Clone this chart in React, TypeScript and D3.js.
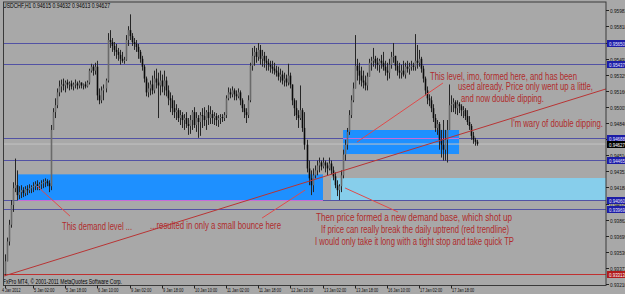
import React from "react";
import * as d3 from "d3";

// ---- data ----
const SYMBOL = "USDCHF,H1";
const HEADER_OHLC = ["0.94615", "0.94632", "0.94613", "0.94627"];
const FOOTER = "FxPro MT4, \u00a9 2001-2011 MetaQuotes Software Corp.";

// hourly candles, prices in 1/10000 CHF (open of each bar = previous close)
const firstOpen = 9331;
const highs = [
  9351, 9368, 9386, 9406, 9424, 9448, 9436, 9420, 9421, 9419,
  9420, 9421, 9422, 9421, 9424, 9425, 9426, 9424, 9426, 9427,
  9428, 9427, 9426, 9482, 9499, 9509, 9519, 9527, 9528, 9529,
  9527, 9528, 9526, 9527, 9525, 9528, 9526, 9527, 9525, 9524,
  9526, 9527, 9539, 9544, 9543, 9545, 9547, 9519, 9521, 9523,
  9529, 9575, 9578, 9570, 9566, 9564, 9560, 9558, 9556, 9551,
  9573, 9582, 9594, 9575, 9570, 9568, 9564, 9558, 9552, 9543,
  9531, 9525, 9527, 9532, 9537, 9539, 9535, 9537, 9533, 9537,
  9531, 9522, 9515, 9512, 9507, 9503, 9499, 9497, 9495, 9493,
  9495, 9489, 9492, 9497, 9500, 9495, 9492, 9495, 9499, 9500,
  9497, 9502, 9501, 9497, 9495, 9494, 9492, 9493, 9493, 9495,
  9512, 9520, 9519, 9521, 9519, 9517, 9519, 9517, 9509, 9503,
  9499, 9512, 9545, 9560, 9562, 9560, 9565, 9563, 9558, 9556,
  9552, 9549, 9547, 9547, 9545, 9542, 9541, 9539, 9537, 9535,
  9533, 9544, 9535, 9522, 9509, 9507, 9497, 9522, 9499, 9495,
  9467, 9446, 9436, 9438, 9441, 9446, 9449, 9446, 9449, 9446,
  9444, 9449, 9446, 9440, 9434, 9426, 9422, 9436, 9457, 9467,
  9479, 9497, 9512, 9525, 9573, 9549, 9545, 9541, 9537, 9532,
  9535, 9549, 9551, 9560, 9552, 9550, 9549, 9553, 9556, 9547,
  9545, 9549, 9556, 9565, 9552, 9547, 9545, 9543, 9547, 9545,
  9547, 9545, 9547, 9545, 9574, 9563, 9558, 9551, 9542, 9531,
  9521, 9513, 9511, 9503, 9493, 9487, 9485, 9477, 9487, 9477,
  9487, 9523, 9512, 9509, 9507, 9507, 9505, 9503, 9501, 9499,
  9497, 9491, 9483, 9475, 9469, 9467,
];
const lows = [
  9329, 9344, 9360, 9378, 9394, 9414, 9406, 9407, 9408, 9409,
  9410, 9411, 9413, 9413, 9414, 9416, 9416, 9416, 9417, 9418,
  9419, 9420, 9414, 9416, 9477, 9489, 9499, 9511, 9515, 9517,
  9515, 9519, 9517, 9518, 9517, 9519, 9518, 9519, 9519, 9518,
  9519, 9520, 9523, 9535, 9532, 9533, 9507, 9503, 9504, 9507,
  9515, 9525, 9560, 9556, 9552, 9549, 9547, 9543, 9545, 9544,
  9547, 9562, 9568, 9562, 9558, 9556, 9549, 9545, 9537, 9525,
  9511, 9510, 9512, 9513, 9514, 9519, 9489, 9512, 9515, 9512,
  9511, 9502, 9495, 9492, 9489, 9487, 9485, 9482, 9479, 9477,
  9479, 9472, 9473, 9477, 9479, 9475, 9469, 9471, 9479, 9481,
  9477, 9482, 9483, 9483, 9482, 9481, 9480, 9483, 9485, 9486,
  9489, 9507, 9509, 9510, 9507, 9507, 9509, 9502, 9495, 9489,
  9484, 9489, 9505, 9537, 9542, 9545, 9547, 9543, 9541, 9540,
  9537, 9537, 9535, 9534, 9533, 9531, 9527, 9525, 9523, 9521,
  9521, 9522, 9519, 9502, 9491, 9487, 9479, 9487, 9475, 9457,
  9434, 9421, 9411, 9414, 9428, 9431, 9434, 9436, 9438, 9434,
  9431, 9436, 9432, 9426, 9418, 9410, 9406, 9414, 9428, 9446,
  9457, 9472, 9489, 9505, 9525, 9527, 9523, 9521, 9519, 9517,
  9517, 9533, 9537, 9541, 9539, 9537, 9535, 9539, 9537, 9532,
  9527, 9529, 9539, 9545, 9537, 9532, 9529, 9529, 9531, 9529,
  9535, 9533, 9537, 9537, 9537, 9539, 9541, 9535, 9525, 9512,
  9503, 9501, 9495, 9485, 9475, 9472, 9457, 9449, 9446, 9446,
  9444, 9477, 9495, 9495, 9493, 9492, 9494, 9491, 9489, 9487,
  9482, 9477, 9467, 9463, 9461, 9461,
];
const closes = [
  9344, 9364, 9381, 9401, 9418, 9421, 9411, 9414, 9416, 9413,
  9417, 9416, 9418, 9419, 9420, 9422, 9420, 9422, 9423, 9424,
  9425, 9423, 9420, 9477, 9495, 9502, 9515, 9521, 9523, 9522,
  9525, 9523, 9524, 9521, 9523, 9524, 9522, 9525, 9522, 9523,
  9521, 9525, 9537, 9541, 9537, 9541, 9512, 9507, 9517, 9519,
  9527, 9568, 9566, 9562, 9558, 9556, 9553, 9549, 9547, 9548,
  9568, 9578, 9572, 9566, 9564, 9561, 9556, 9549, 9541, 9529,
  9515, 9519, 9523, 9517, 9529, 9525, 9522, 9527, 9521, 9527,
  9517, 9509, 9507, 9499, 9495, 9497, 9489, 9492, 9487, 9489,
  9483, 9481, 9487, 9495, 9482, 9489, 9485, 9492, 9491, 9487,
  9495, 9489, 9493, 9489, 9491, 9487, 9489, 9490, 9489, 9492,
  9509, 9515, 9513, 9517, 9513, 9511, 9515, 9507, 9499, 9495,
  9492, 9507, 9542, 9552, 9556, 9551, 9558, 9549, 9552, 9547,
  9545, 9543, 9541, 9539, 9537, 9535, 9531, 9533, 9527, 9529,
  9525, 9532, 9523, 9507, 9499, 9492, 9489, 9497, 9479, 9462,
  9438, 9428, 9421, 9431, 9436, 9441, 9444, 9440, 9444, 9441,
  9438, 9443, 9436, 9430, 9421, 9416, 9420, 9431, 9452, 9462,
  9475, 9492, 9507, 9519, 9542, 9537, 9532, 9527, 9525, 9522,
  9531, 9545, 9547, 9549, 9545, 9543, 9547, 9545, 9541, 9537,
  9535, 9543, 9551, 9552, 9542, 9537, 9535, 9537, 9533, 9541,
  9539, 9541, 9542, 9541, 9547, 9545, 9549, 9539, 9529, 9517,
  9509, 9507, 9499, 9489, 9479, 9483, 9467, 9462, 9457, 9467,
  9477, 9502, 9503, 9505, 9499, 9503, 9501, 9497, 9497, 9491,
  9485, 9481, 9471, 9467, 9465, 9463,
];

const timeLabels = [
  "4 Jan 2012", "5 Jan 02:00", "5 Jan 18:00", "6 Jan 10:00", "9 Jan 02:00",
  "9 Jan 18:00", "10 Jan 10:00", "11 Jan 02:00", "11 Jan 18:00", "12 Jan 10:00",
  "13 Jan 02:00", "13 Jan 18:00", "16 Jan 10:00", "17 Jan 02:00", "17 Jan 18:00",
];
const timeLabelBars = [0, 14, 30, 46, 62, 78, 94, 110, 126, 142, 158, 174, 190, 206, 222];

const priceTicks = [
  "0.93210", "0.93373", "0.93536", "0.93699", "0.93862", "0.94025",
  "0.94188", "0.94351", "0.94514", "0.94677", "0.94840", "0.95003",
  "0.95166", "0.95329", "0.95492", "0.95655", "0.95818", "0.95981",
];

const blueLevels = [0.9565, 0.95437, 0.94688, 0.94465, 0.9406, 0.93969];
const redLevel = 0.93313;
const bidPrice = 0.94627;

// zones: start bar, end bar, top price, bottom price
const zoneStart = [6.5, 168.2, 162.2];
const zoneEnd = [158.2, 225.9, 320];
const zoneTop = [0.9432, 0.94769, 0.94283];
const zoneBottom = [0.9406, 0.94526, 0.9406];
const zoneKind = ["demand", "demand", "new"];

// daily uptrend line anchors (bar, price)
const trendBars = [0, 235];
const trendPrices = [0.93294, 0.9478];

// annotation pointer lines: [bar1, price1, bar2, price2]
const pointers = [
  [15.9, 0.94202, 32.3, 0.93898],
  [127.9, 0.93878, 149.3, 0.94161],
  [169.2, 0.94182, 195.5, 0.93939],
  [175.1, 0.94647, 217.9, 0.95245],
];

const notes = [
  "This level, imo, formed here, and has been",
  "used already. Price only went up a little,",
  "and now double dipping.",
  "I'm wary of double dipping.",
  "This demand level ...",
  "...resulted in only a small bounce here",
  "Then price formed a new demand base, which shot up",
  "If price can really break the daily uptrend (red trendline)",
  "I would only take it long with a tight stop and take quick TP",
];

// ---- layout ----
const W = 625;
const H = 294;
const PL = 3.5;
const PR = 606;
const PT = 2;
const PB = 285.5;
const noteLayout: [number, number, number][] = [
  [430, 76, 147],
  [458, 86.5, 135],
  [461, 98, 83],
  [511, 123.5, 92],
  [62, 226, 70],
  [150, 225.5, 131],
  [316, 217, 196],
  [321, 229, 188],
  [315, 241, 199],
];

const BG = "#a8a8a8";
const BLUE_LINE = "#5252a4";
const NOTE_RED = "#b02c2c";

export default function App() {
  const n = closes.length;
  const x = d3.scaleLinear().domain([0, n - 1]).range([5, 5 + 2.01 * (n - 1)]);
  const y = d3
    .scaleLinear()
    .domain([+priceTicks[0], +priceTicks[priceTicks.length - 1]])
    .range([284, 284 - 16.1 * (priceTicks.length - 1)]);

  const candles = closes.map((c, i) => {
    const o = (i === 0 ? firstOpen : closes[i - 1]) / 1e4;
    const cl = c / 1e4;
    const hi = Math.max(highs[i] / 1e4, o, cl);
    const lo = Math.min(lows[i] / 1e4, o, cl);
    return { i, o, c: cl, hi, lo };
  });

  const tSlope = (trendPrices[1] - trendPrices[0]) / (trendBars[1] - trendBars[0]);
  const trendAt = (b: number) => trendPrices[0] + (b - trendBars[0]) * tSlope;
  const bL = x.invert(PL);
  const bR = x.invert(PR);

  const font = "'Liberation Sans', Arial, sans-serif";

  return (
    <svg
      width={W}
      height={H}
      viewBox={`0 0 ${W} ${H}`}
      style={{ position: "fixed", left: 0, top: 0, display: "block" }}
    >
      <defs>
        <clipPath id="plot">
          <rect x={PL} y={PT} width={PR - PL} height={PB - PT} />
        </clipPath>
      </defs>
      <rect x={0} y={0} width={W} height={H} fill={BG} />

      <g clipPath="url(#plot)">
        {/* zones */}
        {zoneStart.map((s, k) => (
          <rect
            key={"z" + k}
            x={x(s)}
            y={y(zoneTop[k])}
            width={Math.max(0, Math.min(x(zoneEnd[k]), PR) - x(s))}
            height={y(zoneBottom[k]) - y(zoneTop[k])}
            fill={zoneKind[k] === "demand" ? "#1e90ff" : "#87ceeb"}
          />
        ))}

        {/* bid line */}
        <line x1={PL} x2={PR} y1={y(bidPrice)} y2={y(bidPrice)} stroke="#c4c4c4" strokeWidth={1} />

        {/* blue levels */}
        {blueLevels.map((v, k) => (
          <line key={"b" + k} x1={PL} x2={PR} y1={Math.round(y(v)) + 0.5} y2={Math.round(y(v)) + 0.5} stroke={BLUE_LINE} strokeWidth={1} />
        ))}
        {blueLevels.map((v, k) =>
          zoneStart.map((s, z) =>
            zoneKind[z] === "demand" && v <= zoneTop[z] + 1e-9 && v >= zoneBottom[z] - 1e-9 ? (
              <line
                key={"p" + k + "-" + z}
                x1={x(s)}
                x2={Math.min(x(zoneEnd[z]), PR)}
                y1={Math.round(y(v)) + 0.5}
                y2={Math.round(y(v)) + 0.5}
                stroke="#c86ad8"
                strokeWidth={1}
              />
            ) : null
          )
        )}

        {/* red level */}
        <line x1={PL} x2={PR} y1={Math.round(y(redLevel)) + 0.5} y2={Math.round(y(redLevel)) + 0.5} stroke="#c03030" strokeWidth={1} />

        {/* candles */}
        {candles.map((d) => {
          const cx = Math.round(x(d.i)) + 0.5;
          const up = d.c >= d.o;
          const yTop = y(Math.max(d.o, d.c));
          const yBot = y(Math.min(d.o, d.c));
          return (
            <g key={"c" + d.i}>
              <line x1={cx} x2={cx} y1={y(d.hi)} y2={y(d.lo)} stroke="#262626" strokeWidth={1} />
              <rect
                x={cx - 0.8}
                y={yTop}
                width={1.6}
                height={Math.max(0.8, yBot - yTop)}
                fill={up ? "#6a6a6a" : "#0a0a0a"}
              />
            </g>
          );
        })}

        {/* trend line */}
        <line
          x1={PL}
          y1={y(trendAt(bL))}
          x2={PR}
          y2={y(trendAt(bR))}
          stroke="#b83434"
          strokeWidth={1}
        />

        {/* pointer lines */}
        {pointers.map((p, k) => (
          <line key={"pt" + k} x1={x(p[0])} y1={y(p[1])} x2={x(p[2])} y2={y(p[3])} stroke="#e04a4a" strokeWidth={1} />
        ))}

        {/* notes */}
        {notes.map((t, k) => (
          <text
            key={"n" + k}
            x={noteLayout[k][0]}
            y={noteLayout[k][1] + 3.6}
            fontFamily={font}
            fontSize={10}
            fill={NOTE_RED}
            textLength={noteLayout[k][2]}
            lengthAdjust="spacingAndGlyphs"
          >
            {t}
          </text>
        ))}

        <text x={3} y={8} fontFamily={font} fontSize={6.5} fill="#000" textLength={107} lengthAdjust="spacingAndGlyphs">
          {SYMBOL + "  " + HEADER_OHLC.join(" ")}
        </text>
        <text x={3} y={283.5} fontFamily={font} fontSize={6.5} fill="#000" textLength={119} lengthAdjust="spacingAndGlyphs">
          {FOOTER}
        </text>
      </g>

      {/* frame */}
      <rect x={PL} y={PT} width={PR - PL} height={PB - PT} fill="none" stroke="#3a3a3a" strokeWidth={1} />

      {/* price axis */}
      {priceTicks.map((t, k) => {
        const yy = Math.round(y(+t)) + 0.5;
        return (
          <g key={"pt-" + k}>
            <line x1={PR} x2={PR + 3} y1={yy} y2={yy} stroke="#222" strokeWidth={1} />
            <text x={610} y={yy + 2.2} fontFamily={font} fontSize={6} fill="#111" textLength={17} lengthAdjust="spacingAndGlyphs">
              {t}
            </text>
          </g>
        );
      })}
      {blueLevels.map((v, k) => {
        const yy = Math.round(y(v)) + 0.5;
        return (
          <g key={"bl" + k}>
            <rect x={607} y={yy - 3.5} width={20} height={7} fill="#1c1ca6" />
            <text x={609} y={yy + 2.2} fontFamily={font} fontSize={6} fill="#e8e8ff" textLength={16} lengthAdjust="spacingAndGlyphs">
              {v.toFixed(5)}
            </text>
          </g>
        );
      })}
      <rect x={607} y={Math.round(y(bidPrice)) + 0.5 - 3.5} width={20} height={7} fill="#000" />
      <text x={609} y={Math.round(y(bidPrice)) + 2.7} fontFamily={font} fontSize={6} fill="#fff" textLength={16} lengthAdjust="spacingAndGlyphs">
        {bidPrice.toFixed(5)}
      </text>
      <rect x={607} y={Math.round(y(redLevel)) + 0.5 - 3.5} width={20} height={7} fill="#b01c1c" />
      <text x={609} y={Math.round(y(redLevel)) + 2.7} fontFamily={font} fontSize={6} fill="#fff" textLength={16} lengthAdjust="spacingAndGlyphs">
        {redLevel.toFixed(5)}
      </text>

      {/* time axis */}
      {timeLabels.map((t, k) => {
        const xx = Math.round(x(timeLabelBars[k])) + 0.5;
        return (
          <g key={"tl" + k}>
            <line x1={xx} x2={xx} y1={PB} y2={PB + 3} stroke="#222" strokeWidth={1} />
            <text
              x={k === 0 ? 2 : xx + 0.5}
              y={292}
              fontFamily={font}
              fontSize={6}
              fill="#111"
              textLength={t.length * 1.85}
              lengthAdjust="spacingAndGlyphs"
            >
              {t}
            </text>
          </g>
        );
      })}
    </svg>
  );
}
